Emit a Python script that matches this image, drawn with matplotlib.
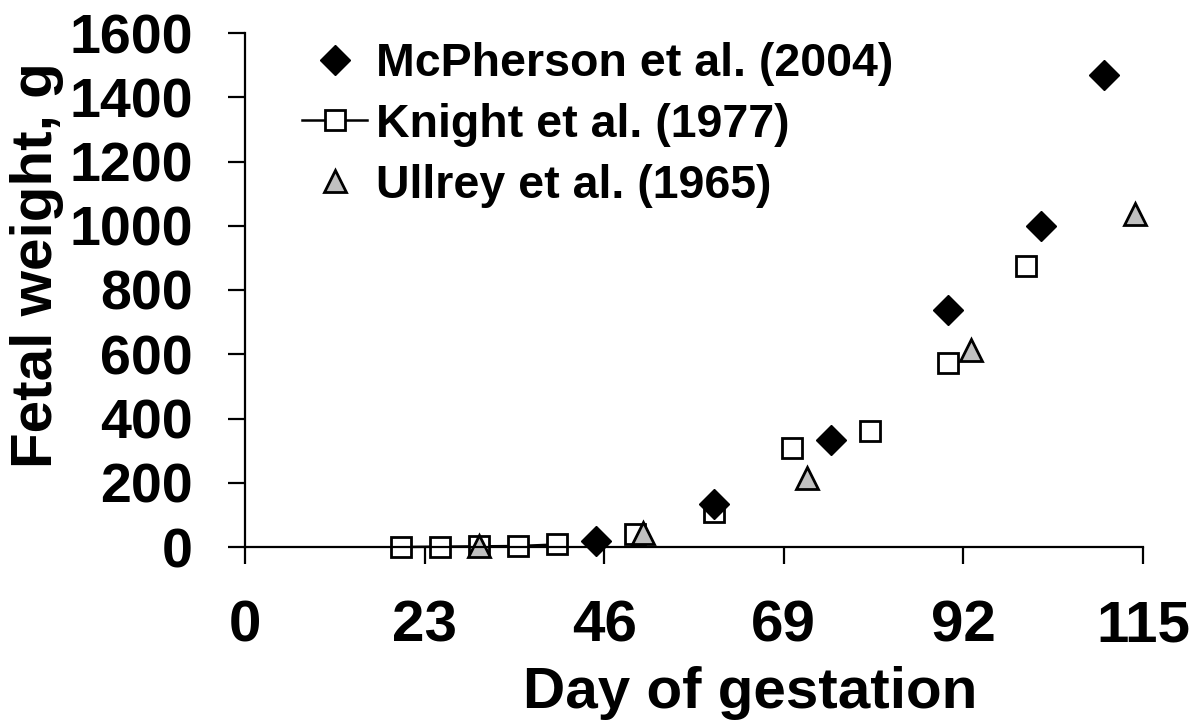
import matplotlib
matplotlib.use('Agg')
import matplotlib.pyplot as plt
from matplotlib.lines import Line2D

# data
mcpherson_day = [45, 60, 75, 90, 102, 110]
mcpherson_wt = [18, 134, 333, 738, 1000, 1470]

knight_day = [20, 25, 30, 35, 40, 50, 60, 70, 80, 90, 100]
knight_wt = [0, 1, 2, 3, 8, 40, 108, 308, 361, 573, 875]
n_knight_line = 5  # only the early points are joined by a line

ullrey_day = [30, 51, 72, 93, 114]
ullrey_wt = [2, 45, 215, 613, 1037]

x_ticks = [0, 23, 46, 69, 92, 115]
y_ticks = [0, 200, 400, 600, 800, 1000, 1200, 1400, 1600]

labels = ['McPherson et al. (2004)', 'Knight et al. (1977)', 'Ullrey et al. (1965)']

plt.rcParams['font.family'] = ['Liberation Sans', 'DejaVu Sans']
plt.rcParams['font.weight'] = 'bold'

fig = plt.figure(figsize=(12, 7.24), dpi=100)
ax = fig.add_axes([245 / 1200, 1 - 547 / 724, (1143 - 245) / 1200, (547 - 33) / 724])

# Knight: first points joined with a line, the rest as open squares
ax.plot(knight_day[:n_knight_line], knight_wt[:n_knight_line], '-s', color='black',
        lw=1.8, ms=14.5, mfc='white', mec='black', mew=2, clip_on=False)
ax.plot(knight_day[n_knight_line:], knight_wt[n_knight_line:], 's', ms=14.5,
        mfc='white', mec='black', mew=2, clip_on=False)

ax.plot(ullrey_day, ullrey_wt, '^', ms=16.5, mfc='#c0c0c0', mec='black', mew=2,
        clip_on=False)

ax.plot(mcpherson_day, mcpherson_wt, 'D', ms=15.5, mfc='black', mec='black', mew=1,
        clip_on=False)

ax.set_xlim(0, 115)
ax.set_ylim(0, 1600)
ax.set_xticks(x_ticks)
ax.set_yticks(y_ticks)
ax.spines['top'].set_visible(False)
ax.spines['right'].set_visible(False)
for s in ['left', 'bottom']:
    ax.spines[s].set_linewidth(1.6)
ax.tick_params(axis='both', direction='out', length=12.5, width=1.6)
ax.tick_params(axis='y', pad=25, labelsize=40)
ax.tick_params(axis='x', pad=25, labelsize=42)

fig.text(37 / 1200, 1 - 265 / 724, 'Fetal weight, g', rotation=90, ha='center',
         va='center', fontsize=42, fontweight='bold')
fig.text(750 / 1200, 16 / 724, 'Day of gestation', ha='center', va='baseline',
         fontsize=42, fontweight='bold')

handles = [
    Line2D([], [], ls='none', marker='D', ms=15.5, mfc='black', mec='black'),
    Line2D([], [], ls='-', color='black', lw=1.8, marker='s', ms=14.5, mfc='white',
           mec='black', mew=2),
    Line2D([], [], ls='none', marker='^', ms=16.5, mfc='#c0c0c0', mec='black', mew=2),
]
leg = ax.legend(handles, labels, loc='upper left',
                bbox_to_anchor=(302 / 1200, 1 - 42 / 724),
                bbox_transform=fig.transFigure, frameon=False,
                handlelength=1.4, handletextpad=0.2, labelspacing=0.36,
                borderpad=0, borderaxespad=0, prop={'weight': 'bold', 'size': 33.5})

fig.savefig('out.png', dpi=100)
